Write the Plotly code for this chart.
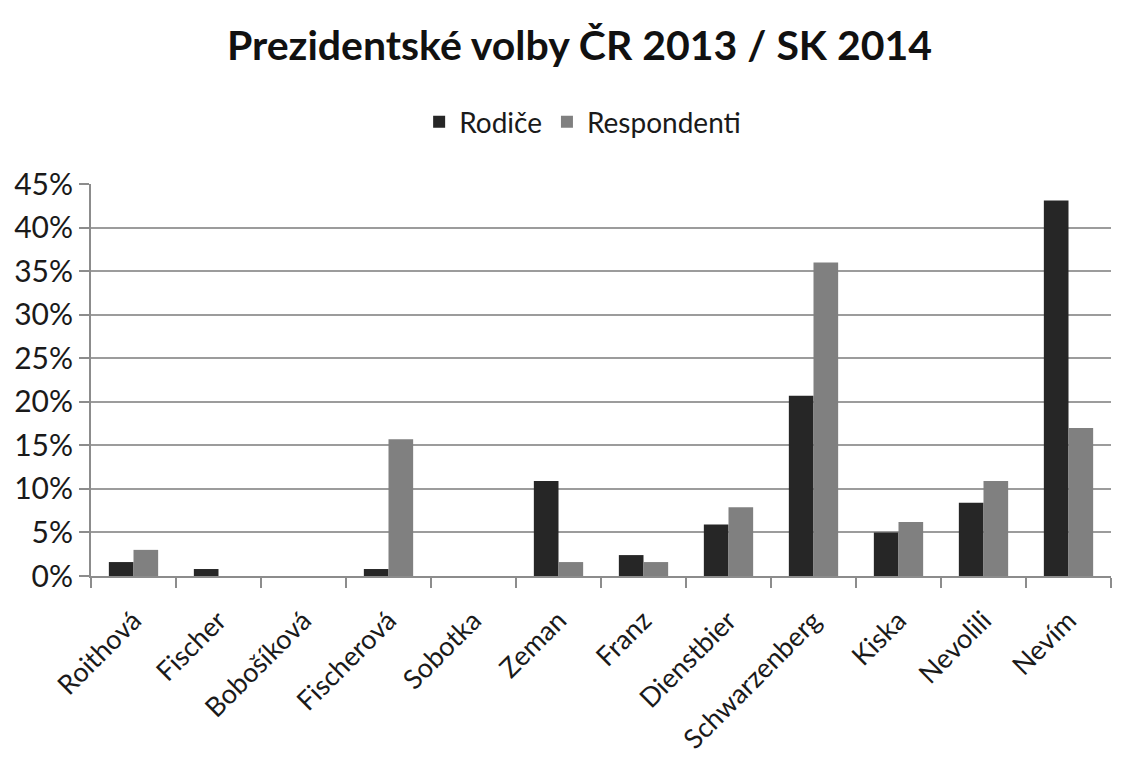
import plotly.graph_objects as go

kandidati = ['Roithová', 'Fischer', 'Bobošíková', 'Fischerová', 'Sobotka', 'Zeman',
             'Franz', 'Dienstbier', 'Schwarzenberg', 'Kiska', 'Nevolili', 'Nevím']
rodice = [1.6, 0.8, 0, 0.8, 0, 10.9, 2.4, 5.9, 20.7, 5.0, 8.4, 43.1]
respondenti = [3.0, 0, 0, 15.7, 0, 1.6, 1.6, 7.9, 36.0, 6.2, 10.9, 17.0]
y_ticks = [0, 5, 10, 15, 20, 25, 30, 35, 40, 45]

fig = go.Figure()
fig.add_trace(go.Bar(x=kandidati, y=rodice, name='Rodiče',
                     marker=dict(color='#262626', line=dict(width=0))))
fig.add_trace(go.Bar(x=kandidati, y=respondenti, name='Respondenti',
                     marker=dict(color='#808080', line=dict(width=0))))

fig.update_layout(
    width=1125, height=762,
    paper_bgcolor='white', plot_bgcolor='white',
    font=dict(family='Lato, Open Sans, sans-serif', color='#1a1a1a'),
    title=dict(text='<b>Prezidentské volby ČR 2013 / SK 2014</b>',
               x=0.508, xanchor='center', y=0.95, yanchor='middle',
               font=dict(size=41, color='#111111')),
    legend=dict(orientation='h', x=0.482, xanchor='center', y=1.158, yanchor='middle',
                font=dict(size=28), traceorder='normal'),
    margin=dict(l=83, r=22, t=176, b=194, autoexpand=False),
    bargap=0.42, bargroupgap=0,
    xaxis=dict(type='category', tickangle=-45, tickfont=dict(size=27),
               automargin=False,
               showline=True, linecolor='#8c8c8c', linewidth=2,
               ticks='outside', tickson='boundaries', ticklen=10,
               tickcolor='#8c8c8c', tickwidth=2, ticklabelstandoff=16),
    yaxis=dict(range=[0, 45], tickvals=y_ticks, automargin=False,
               ticktext=[f'{v}%' for v in y_ticks], tickfont=dict(size=30),
               showgrid=True, gridcolor='#9c9c9c', gridwidth=2,
               showline=True, linecolor='#8c8c8c', linewidth=2,
               ticks='outside', ticklen=10, tickcolor='#8c8c8c', tickwidth=2,
               ticklabelstandoff=0, zeroline=False),
)

fig.write_html('out.html')
